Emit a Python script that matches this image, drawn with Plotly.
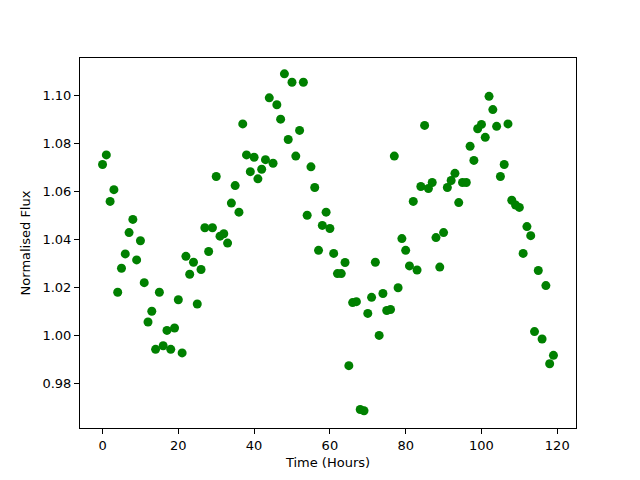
import plotly.graph_objects as go

time_hours = list(range(120))
flux = [
    1.0713, 1.0753, 1.0559, 1.0608, 1.0180, 1.0280, 1.0340, 1.0429, 1.0484, 1.0315,
    1.0395, 1.0220, 1.0056, 1.0101, 0.9942, 1.0180, 0.9957, 1.0021, 0.9942, 1.0031,
    1.0149, 0.9927, 1.0330, 1.0255, 1.0305, 1.0131, 1.0275, 1.0449, 1.0350, 1.0449,
    1.0663, 1.0414, 1.0424, 1.0385, 1.0552, 1.0625, 1.0514, 1.0882, 1.0753, 1.0683,
    1.0743, 1.0653, 1.0693, 1.0733, 1.0991, 1.0718, 1.0962, 1.0902, 1.1091, 1.0817,
    1.1056, 1.0748, 1.0855, 1.1056, 1.0501, 1.0703, 1.0617, 1.0355, 1.0459, 1.0514,
    1.0446, 1.0342, 1.0258, 1.0258, 1.0304, 0.9874, 1.0137, 1.0141, 0.9691, 0.9686,
    1.0092, 1.0159, 1.0305, 1.0000, 1.0175, 1.0104, 1.0108, 1.0748, 1.0199, 1.0404,
    1.0355, 1.0290, 1.0559, 1.0273, 1.0621, 1.0876, 1.0613, 1.0638, 1.0408, 1.0285,
    1.0429, 1.0617, 1.0646, 1.0676, 1.0554, 1.0638, 1.0638, 1.0789, 1.0730, 1.0862,
    1.0880, 1.0826, 1.0997, 1.0942, 1.0872, 1.0663, 1.0713, 1.0882, 1.0564, 1.0544,
    1.0534, 1.0342, 1.0454, 1.0416, 1.0016, 1.0271, 0.9985, 1.0208, 0.9882, 0.9917,
]

fig = go.Figure(go.Scatter(
    x=time_hours, y=flux, mode="markers",
    marker=dict(color="#008000", size=9, line=dict(width=0)),
))

axis_common = dict(
    showgrid=False, zeroline=False, showline=True, linecolor="black", linewidth=1,
    mirror=True, ticks="outside", ticklen=5, tickwidth=1, tickcolor="black",
    automargin=False,
    tickfont=dict(family="DejaVu Sans", size=13, color="black"),
)

fig.update_layout(
    width=640, height=480,
    margin=dict(l=72, r=72, t=50, b=60),
    paper_bgcolor="white", plot_bgcolor="white",
    showlegend=False,
    xaxis=dict(range=[-5.95, 124.95], tickvals=[0, 20, 40, 60, 80, 100, 120],
               title=dict(text="Time (Hours)", font=dict(family="DejaVu Sans", size=13, color="black"), standoff=6),
               **axis_common),
    yaxis=dict(range=[0.9614, 1.1157], tickvals=[0.98, 1.00, 1.02, 1.04, 1.06, 1.08, 1.10],
               tickformat=".2f",
               title=dict(text="Normalised Flux", font=dict(family="DejaVu Sans", size=13, color="black"), standoff=8),
               **axis_common),
)

fig.write_html("out.html")
